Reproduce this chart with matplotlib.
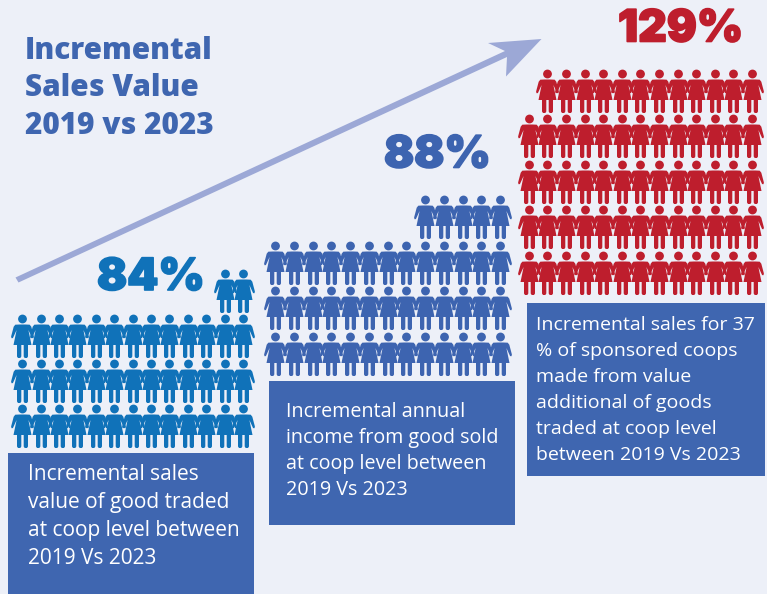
import matplotlib
matplotlib.use("Agg")
import matplotlib.pyplot as plt
import matplotlib.patheffects as pe
from matplotlib.patches import Polygon, Rectangle
from matplotlib.path import Path

BACKGROUND = "#edf0f8"
BOX_BLUE = "#3f66b0"
ARROW = "#9ca8d6"

title_lines = ["Incremental", "Sales Value", "2019 vs 2023"]

# people per row, top row first
rows_84 = [2, 13, 13, 13]
rows_88 = [5, 13, 13, 13]
rows_129 = [12, 13, 13, 13, 13]

labels = ["84%", "88%", "129%"]
captions = [
    ["Incremental sales", "value of good traded", "at coop level between", "2019 Vs 2023"],
    ["Incremental annual", "income from good sold", "at coop level between", "2019 Vs 2023"],
    ["Incremental sales for 37", "% of sponsored coops", "made from value",
     "additional of goods", "traded at coop level", "between 2019 Vs 2023"],
]


def person_marker():
    # outline in pixels, origin at the middle of the figure, y up
    right = [
        (3, 14), (7.2, 13.8), (8.8, 11.8), (11.4, 2), (11, 0.3), (9.6, 0.4), (5.9, 8.5),
        (9, -6.5), (5.5, -6.5), (5.5, -18), (4.5, -19.5), (2.2, -19.5), (1.2, -18), (1.2, -6.5),
    ]
    left = [(-x, y) for x, y in reversed(right)]
    body = right + left
    head = Path.circle((0, 19.5), 4.4)
    return Path.make_compound_path(head, Path(body + [body[0]], closed=True)), 23.9


def draw_people(ax, rows, right_x, first_y, dx, dy, color):
    marker, extent = person_marker()
    xs, ys = [], []
    for r, count in enumerate(rows):
        for c in range(count):
            xs.append(right_x - c * dx)
            ys.append(first_y + r * dy)
    # custom markers get scaled to unit size by their largest coordinate
    size = (2 * extent * 72 / fig.dpi) ** 2
    ax.scatter(xs, ys, marker=marker, s=size, color=color, linewidths=0)


def draw_box(ax, x0, y0, x1, y1, lines, text_x, first_base, pitch, fontsize):
    ax.add_patch(Rectangle((x0, y0), x1 - x0, y1 - y0, color=BOX_BLUE, lw=0))
    for i, line in enumerate(lines):
        ax.text(text_x, first_base + i * pitch, line, color="white", fontsize=fontsize,
                family="Open Sans", va="baseline", ha="left")


fig = plt.figure(figsize=(7.67, 5.94), dpi=100, facecolor=BACKGROUND)
ax = fig.add_axes([0, 0, 1, 1])
ax.set_xlim(0, 767)
ax.set_ylim(594, 0)
ax.axis("off")

# rising arrow behind the title
ax.add_patch(Polygon([(15.5, 277.5), (505, 51), (488, 43), (541.5, 39), (506, 76.5), (507, 57), (18.5, 282.5)],
                     color=ARROW, lw=0))

for i, line in enumerate(title_lines):
    ax.text(25, 59 + i * 37.5, line, color=BOX_BLUE, fontsize=21.4, family="Open Sans",
            weight="extra bold", va="baseline")

draw_people(ax, rows_84, 243, 292.5, 18.4, 45, "#1072b9")
draw_people(ax, rows_88, 500, 219, 18.75, 45.5, "#3d64b0")
draw_people(ax, rows_129, 752, 92.5, 18.6, 45.5, "#be1e2d")

# the stroke makes the big percentages heavier than the font's own black weight
for text, x, y, color in zip(labels, [97, 384, 618], [290, 167.5, 41.5], ["#1072b9", "#3d64b0", "#be1e2d"]):
    ax.text(x, y, text, color=color, fontsize=32, family="Inter", weight="black", va="baseline",
            path_effects=[pe.withStroke(linewidth=1.2, foreground=color)])

draw_box(ax, 8, 453, 254, 594, captions[0], 28, 480, 28, 15)
draw_box(ax, 269, 381, 515, 525, captions[1], 286, 417, 26, 14.2)
draw_box(ax, 527, 303, 765, 476, captions[2], 536, 330, 26, 14)

fig.savefig("out.png", dpi=100, facecolor=BACKGROUND)
